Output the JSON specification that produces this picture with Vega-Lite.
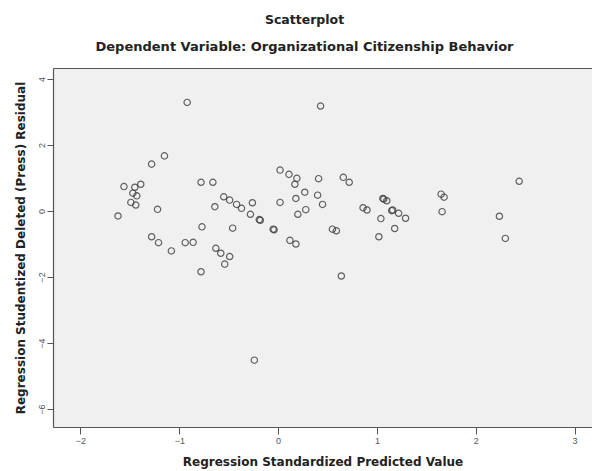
{
  "$schema": "https://vega.github.io/schema/vega-lite/v6.json",
  "width": 539,
  "height": 359,
  "autosize": {"type": "none"},
  "padding": {"left": 53, "top": 68, "right": 0, "bottom": 44},
  "background": "#ffffff",
  "title": {
    "text": "Scatterplot",
    "subtitle": "Dependent Variable: Organizational Citizenship Behavior",
    "anchor": "middle",
    "dx": -18,
    "font": "DejaVu Sans",
    "fontSize": 12.5,
    "fontWeight": "bold",
    "color": "#222222",
    "subtitleFont": "DejaVu Sans",
    "subtitleFontSize": 13,
    "subtitleFontWeight": "bold",
    "subtitleColor": "#222222",
    "subtitlePadding": 15,
    "offset": 14
  },
  "config": {
    "view": {"stroke": null, "fill": "#f0f0f0"},
    "axis": {
      "grid": false,
      "domainColor": "#555555",
      "domainWidth": 1.2,
      "tickColor": "#555555",
      "tickSize": 6,
      "labelFont": "Liberation Sans",
      "labelFontSize": 9,
      "labelColor": "#555555",
      "titleFont": "DejaVu Sans",
      "titleFontSize": 12,
      "titleFontWeight": "bold",
      "titleColor": "#222222"
    }
  },
  "data": {
    "values": [
      {"x": -0.92, "y": 3.29}, {"x": 0.43, "y": 3.18}, {"x": -1.15, "y": 1.67}, {"x": -1.28, "y": 1.42},
      {"x": -1.56, "y": 0.74}, {"x": -1.45, "y": 0.72}, {"x": -1.39, "y": 0.81}, {"x": -1.47, "y": 0.54},
      {"x": -1.43, "y": 0.46}, {"x": -1.49, "y": 0.26}, {"x": -1.44, "y": 0.18}, {"x": -1.62, "y": -0.15},
      {"x": -1.22, "y": 0.05}, {"x": -0.78, "y": 0.87}, {"x": -0.66, "y": 0.87}, {"x": -0.55, "y": 0.43},
      {"x": -0.49, "y": 0.33}, {"x": -0.42, "y": 0.2}, {"x": -0.37, "y": 0.08}, {"x": -0.64, "y": 0.13},
      {"x": -0.26, "y": 0.25}, {"x": -0.28, "y": -0.1}, {"x": -0.19, "y": -0.26}, {"x": -0.18, "y": -0.28},
      {"x": -0.05, "y": -0.55}, {"x": -0.04, "y": -0.57}, {"x": -0.77, "y": -0.48}, {"x": -0.46, "y": -0.52},
      {"x": -1.28, "y": -0.78}, {"x": -1.21, "y": -0.96}, {"x": -1.08, "y": -1.21}, {"x": -0.94, "y": -0.96},
      {"x": -0.86, "y": -0.95}, {"x": -0.63, "y": -1.13}, {"x": -0.58, "y": -1.28}, {"x": -0.49, "y": -1.38},
      {"x": -0.54, "y": -1.61}, {"x": -0.78, "y": -1.84}, {"x": -0.24, "y": -4.52}, {"x": 0.02, "y": 1.24},
      {"x": 0.11, "y": 1.11}, {"x": 0.19, "y": 0.99}, {"x": 0.17, "y": 0.81}, {"x": 0.41, "y": 0.98},
      {"x": 0.27, "y": 0.57}, {"x": 0.18, "y": 0.38}, {"x": 0.02, "y": 0.26}, {"x": 0.4, "y": 0.48},
      {"x": 0.45, "y": 0.2}, {"x": 0.28, "y": 0.04}, {"x": 0.2, "y": -0.1}, {"x": 0.12, "y": -0.89},
      {"x": 0.18, "y": -1.0}, {"x": 0.55, "y": -0.55}, {"x": 0.59, "y": -0.6}, {"x": 0.66, "y": 1.02},
      {"x": 0.72, "y": 0.87}, {"x": 1.06, "y": 0.38}, {"x": 1.07, "y": 0.36}, {"x": 1.1, "y": 0.31},
      {"x": 0.86, "y": 0.1}, {"x": 0.9, "y": 0.03}, {"x": 1.16, "y": 0.03}, {"x": 1.15, "y": 0.01},
      {"x": 1.22, "y": -0.07}, {"x": 1.29, "y": -0.22}, {"x": 1.04, "y": -0.23}, {"x": 1.18, "y": -0.53},
      {"x": 1.02, "y": -0.78}, {"x": 0.64, "y": -1.97}, {"x": 1.65, "y": 0.51}, {"x": 1.68, "y": 0.42},
      {"x": 1.66, "y": -0.02}, {"x": 2.24, "y": -0.16}, {"x": 2.3, "y": -0.83}, {"x": 2.44, "y": 0.9}
    ]
  },
  "layer": [
    {
      "mark": {"type": "point", "shape": "circle", "filled": false, "size": 40, "strokeWidth": 1.2, "color": "#3c3c3c", "opacity": 0.8},
      "encoding": {
        "x": {
          "field": "x", "type": "quantitative",
          "scale": {"domain": [-2.278, 3.177], "nice": false, "zero": false},
          "axis": {"orient": "bottom", "values": [-2, -1, 0, 1, 2, 3], "tickSize": 7, "labelPadding": 2, "title": "Regression Standardized Predicted Value", "titlePadding": 11}
        },
        "y": {
          "field": "y", "type": "quantitative",
          "scale": {"domain": [-6.545, 4.333], "nice": false, "zero": false},
          "axis": {"values": [-6, -4, -2, 0, 2, 4], "labelAngle": -90, "labelAlign": "center", "labelBaseline": "bottom", "labelPadding": 1, "title": "Regression Studentized Deleted (Press) Residual", "titlePadding": 10}
        }
      }
    },
    {
      "mark": {"type": "point", "opacity": 0},
      "encoding": {
        "x": {
          "field": "x", "type": "quantitative",
          "scale": {"domain": [-2.278, 3.177], "nice": false, "zero": false},
          "axis": {"orient": "top", "labels": false, "ticks": false, "title": null, "domain": true}
        }
      }
    }
  ],
  "resolve": {"axis": {"x": "independent"}}
}
